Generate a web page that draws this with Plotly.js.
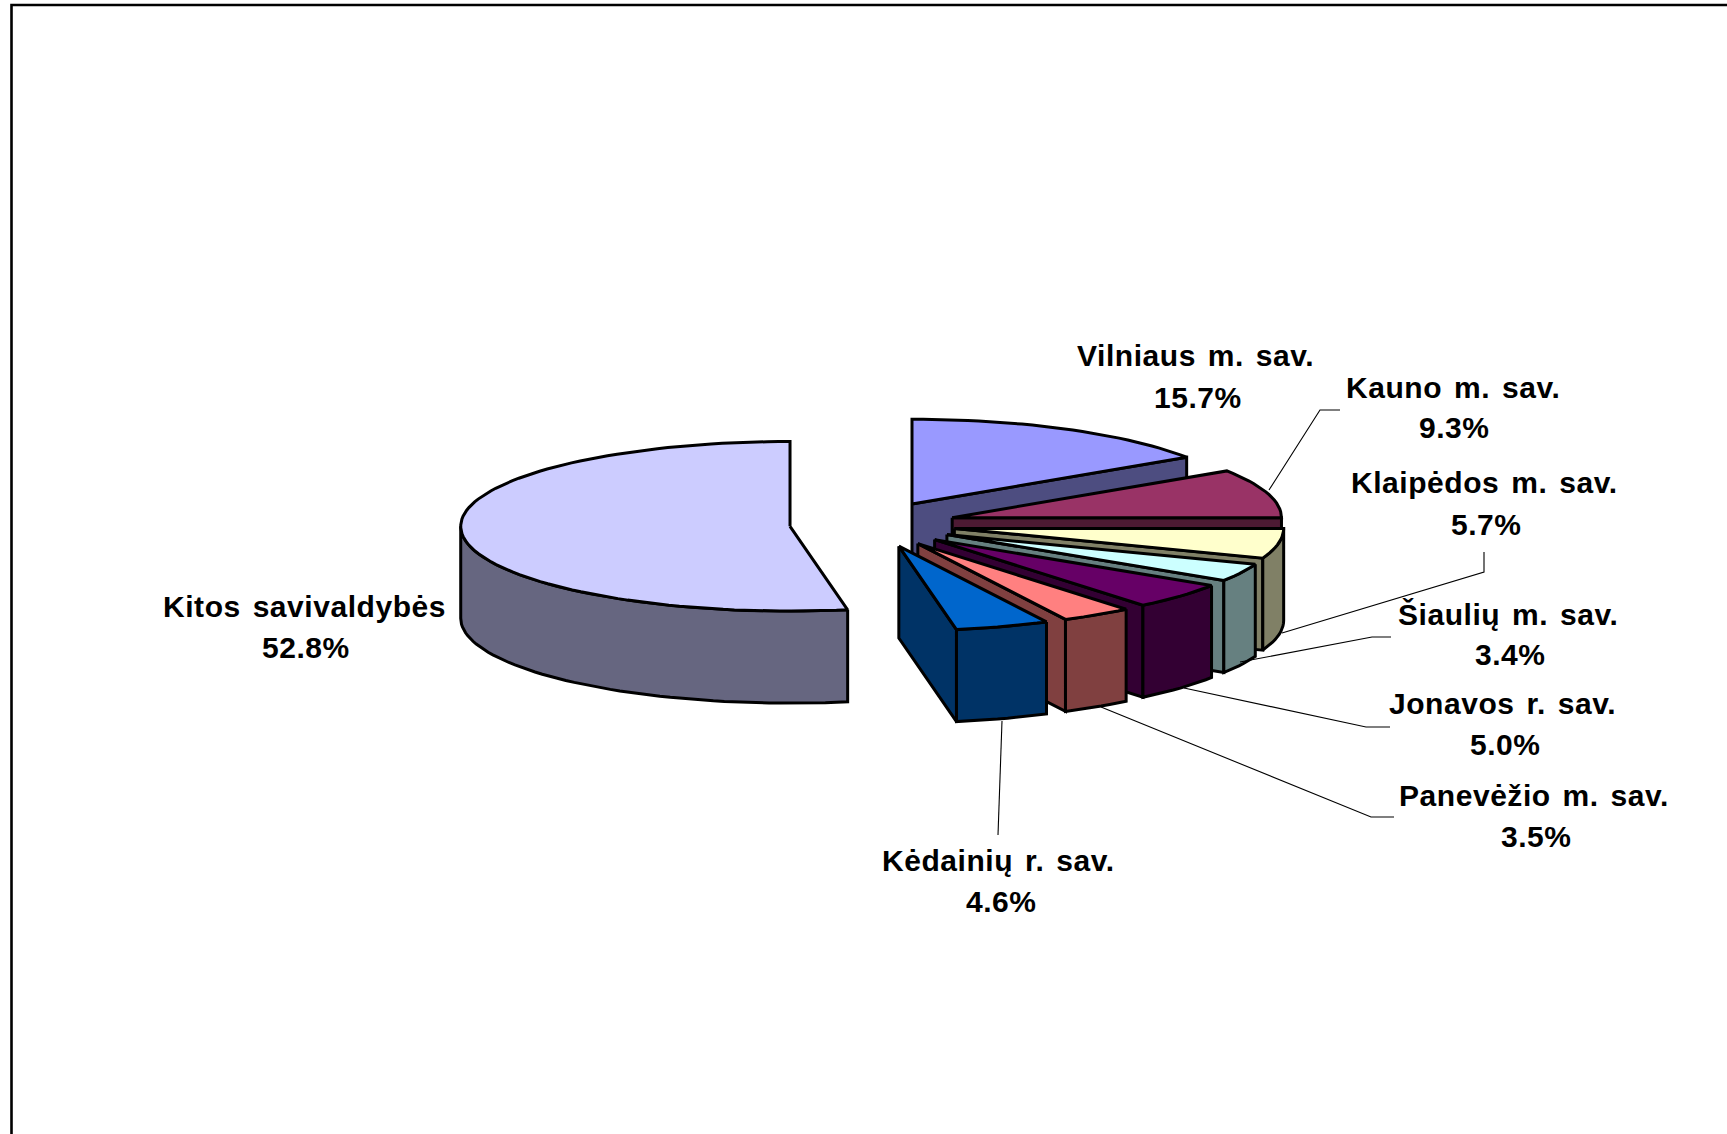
<!DOCTYPE html>
<html><head><meta charset="utf-8">
<script src="https://cdn.plot.ly/plotly-3.0.1.min.js"></script>
<style>html,body{margin:0;padding:0;background:#fff;overflow:hidden}
.annotation-text{letter-spacing:.55px;word-spacing:3px}</style>
</head><body><div id="chart" style="width:1727px;height:1134px"></div>
<script>
// Data, clockwise from 12 o'clock
const categories = ["Vilniaus m. sav.","Kauno m. sav.","Klaipėdos m. sav.","Šiaulių m. sav.","Jonavos r. sav.","Panevėžio m. sav.","Kėdainių r. sav.","Kitos savivaldybės"];
const shares = [15.7,9.3,5.7,3.4,5.0,3.5,4.6,52.8];
const topColors = ["#9999FF","#993366","#FFFFCC","#CCFFFF","#660066","#FF8080","#0066CC","#CCCCFF"];
const sideColors = ["#4D4D80","#4D1A33","#808066","#668080","#330033","#804040","#003366","#666680"];
// Label anchors (name line, percent line)
const nameX = [1195,1453,1484,1508,1502,1534,998,304];
const nameY = [355,387,482,614,703,795,860,606];
const pctX  = [1198,1454,1486,1510,1505,1536,1001,306];
const pctY  = [397,427,524,654,744,836,901,647];
// Leader lines, one per label that has one
const leaderX = [[1340,1320,1269],[1484,1484,1282],[1391,1372,1240],[1390,1366,1184],[1394,1371,1101],[998,1002]];
const leaderY = [[410,410,490],[552,572,633],[637,637,662],[727,727,688],[817,817,707],[835,721]];

// Projection of the tilted, exploded pie
const cx=872.7, cy=524.3, rx=329.3, ry=84.8, explodeX=83, explodeY=23, depth=92, edge=3;
const rad=d=>d*Math.PI/180;
const traces=[];
function poly(xs,ys,color){
  traces.push({type:"scatter",mode:"lines",x:[...xs,xs[0]],y:[...ys,ys[0]],fill:"toself",fillcolor:color,
    line:{color:"#000",width:edge},hoverinfo:"skip",showlegend:false});
}
function arc(vx,vy,a,b){
  const xs=[],ys=[],n=Math.max(2,Math.ceil((b-a)/2));
  for(let i=0;i<=n;i++){const t=rad(a+(b-a)*i/n);xs.push(vx+rx*Math.sin(t));ys.push(vy-ry*Math.cos(t));}
  return {xs,ys};
}
let cum=0;
shares.forEach((v,i)=>{
  const a=cum*3.6; cum+=v; const b=cum*3.6, m=(a+b)/2;
  const vx=cx+explodeX*Math.sin(rad(m)), vy=cy-explodeY*Math.cos(rad(m));
  const side=sideColors[i];
  const cut=t=>{
    const ex=vx+rx*Math.sin(rad(t)), ey=vy-ry*Math.cos(rad(t));
    poly([vx,ex,ex,vx],[vy,ey,ey+depth,vy+depth],side);
  };
  if(Math.sin(rad(a))<0) cut(a);
  if(Math.sin(rad(b))>0) cut(b);
  const wa=Math.max(a,90), wb=Math.min(b,270);
  if(wb>wa){
    const w=arc(vx,vy,wa,wb);
    poly([...w.xs,...w.xs.slice().reverse()],[...w.ys,...w.ys.slice().reverse().map(y=>y+depth)],side);
  }
  const t=arc(vx,vy,a,b);
  poly([vx,...t.xs],[vy,...t.ys],topColors[i]);
});
leaderX.forEach((xs,i)=>traces.push({type:"scatter",mode:"lines",x:xs,y:leaderY[i],
  line:{color:"#000",width:1.1},hoverinfo:"skip",showlegend:false}));

const labelFont={family:"Liberation Sans, Arial, sans-serif",size:30,color:"#000",weight:700};
const note=(x,y,text)=>({x,y,text,xref:"x",yref:"y",xanchor:"center",yanchor:"middle",showarrow:false,font:labelFont,borderpad:0});
const annotations=[];
categories.forEach((c,i)=>{
  annotations.push(note(nameX[i],nameY[i],"<b>"+c+"</b>"));
  annotations.push(note(pctX[i],pctY[i],"<b>"+shares[i].toFixed(1)+"%</b>"));
});
Plotly.newPlot("chart",traces,{
  width:1727,height:1134,margin:{l:0,r:0,t:0,b:0,pad:0},paper_bgcolor:"#fff",plot_bgcolor:"#fff",showlegend:false,
  xaxis:{range:[0,1727],visible:false,fixedrange:true},
  yaxis:{range:[1134,0],visible:false,fixedrange:true},
  annotations,
  shapes:[{type:"rect",xref:"x",yref:"y",x0:11.5,y0:5,x1:1760,y1:1170,line:{color:"#000",width:2.6},fillcolor:"rgba(0,0,0,0)"}]
},{displayModeBar:false,staticPlot:true});
</script></body></html>
